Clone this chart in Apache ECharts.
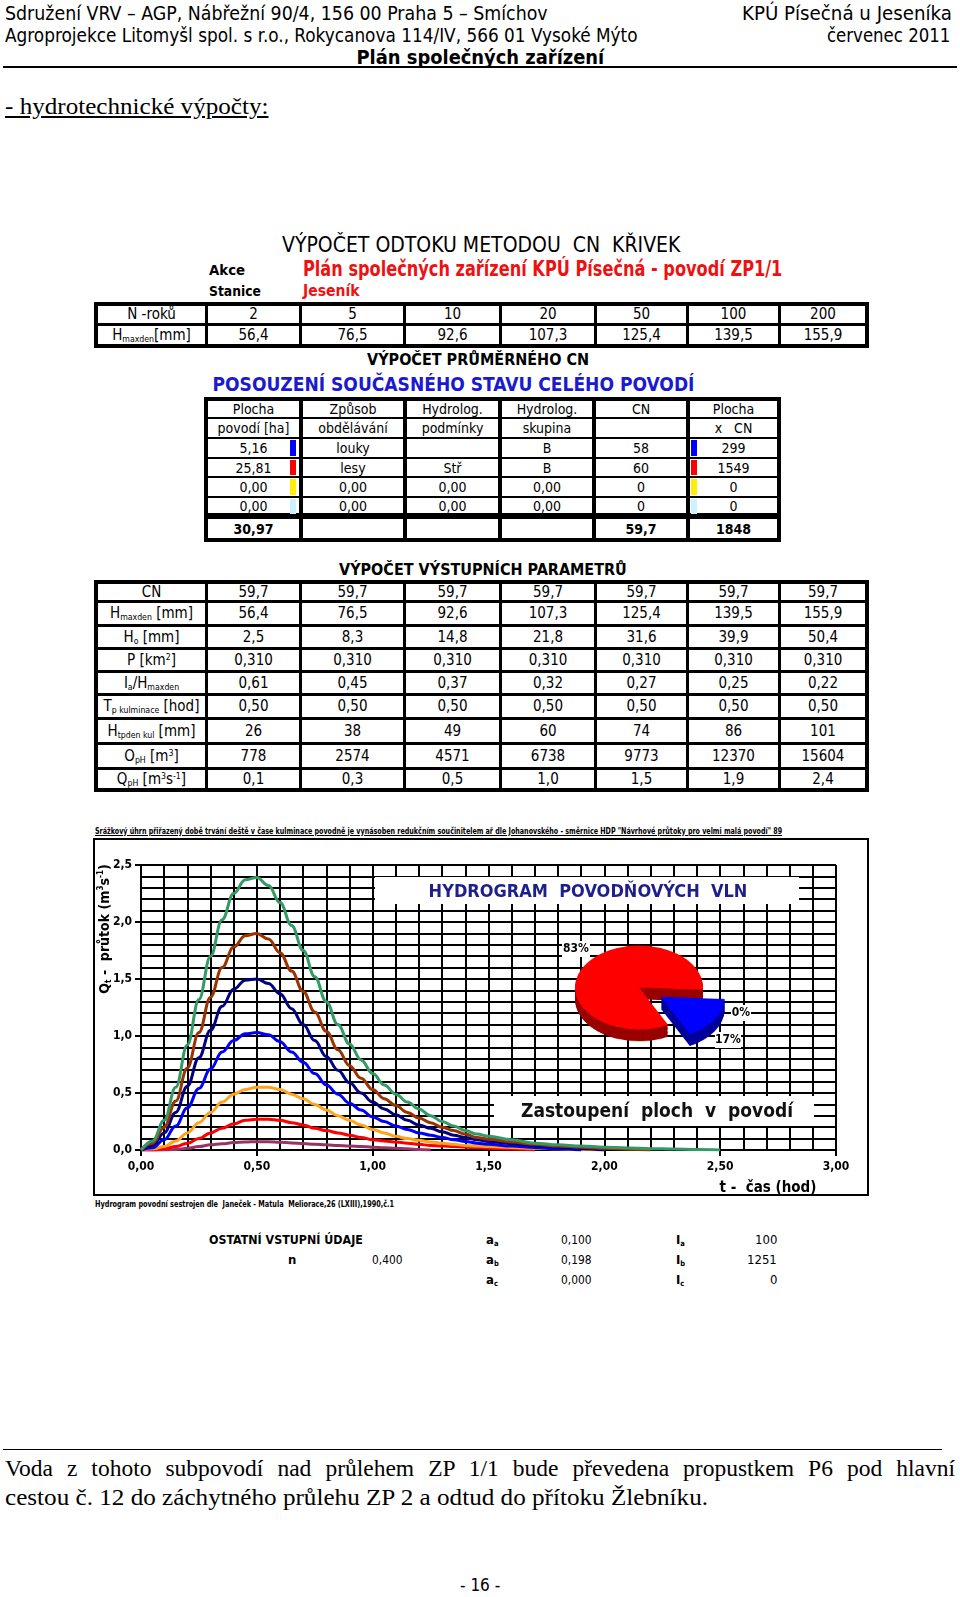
<!DOCTYPE html>
<html><head><meta charset="utf-8">
<script src="https://cdn.jsdelivr.net/npm/echarts/dist/echarts.min.js"></script>
<style>
html,body{margin:0;padding:0;background:#fff;}
#page{position:relative;width:960px;height:1597px;overflow:hidden;background:#fff;font-family:"Liberation Sans Narrow","Arial Narrow","DejaVu Sans Condensed","Liberation Sans",sans-serif;color:#000;}
.t{position:absolute;white-space:nowrap;left:0;top:0;}
.cell{position:absolute;background:#fff;display:flex;align-items:center;justify-content:center;white-space:nowrap;font-size:15px;line-height:1;}
sub{font-size:58%;vertical-align:-0.25em;line-height:0;}
sup{font-size:58%;vertical-align:0.55em;line-height:0;}
#chart{position:absolute;left:93px;top:838px;width:776px;height:358px;}
#pie{position:absolute;left:539px;top:934.5px;width:200px;height:200px;transform:scaleY(0.656);transform-origin:0 0;z-index:5;}
#box{position:absolute;left:93px;top:838px;width:776px;height:358px;border:2px solid #000;box-sizing:border-box;pointer-events:none;z-index:6;}
</style></head>
<body>
<div id="page">
  <div id="chart"></div>
  <div id="pie"></div>
  <div id="box"></div>
</div>
<script>
// ---------------- DATA ----------------
const N_YEARS = [2, 5, 10, 20, 50, 100, 200];
const H_MAXDEN = [56.4, 76.5, 92.6, 107.3, 125.4, 139.5, 155.9];

const AREA_HA = [5.16, 25.81, 0.00, 0.00];
const LAND_USE = ['louky', 'lesy', '0,00', '0,00'];
const HYD_COND = ['', 'Stř', '0,00', '0,00'];
const HYD_GROUP = ['B', 'B', '0,00', '0,00'];
const CN_VALS = [58, 60, 0, 0];
const AREA_X_CN = [299, 1549, 0, 0];
const AREA_TOTAL = 30.97;
const CN_AVG = 59.7;
const AREA_X_CN_TOTAL = 1848;
const SLICE_TOP = ['#0000ff', '#ff0000', '#ffee00', '#ccf2ff'];
const SLICE_SIDE = ['#00009a', '#990000', '#999900', '#88aaaa'];

const CN_ROW = [59.7, 59.7, 59.7, 59.7, 59.7, 59.7, 59.7];
const H_O = [2.5, 8.3, 14.8, 21.8, 31.6, 39.9, 50.4];
const P_KM2 = [0.310, 0.310, 0.310, 0.310, 0.310, 0.310, 0.310];
const IA_H = [0.61, 0.45, 0.37, 0.32, 0.27, 0.25, 0.22];
const TP_KUL = [0.50, 0.50, 0.50, 0.50, 0.50, 0.50, 0.50];
const H_TPDEN = [26, 38, 49, 60, 74, 86, 101];
const O_PH = [778, 2574, 4571, 6738, 9773, 12370, 15604];
const Q_PH = [0.1, 0.3, 0.5, 1.0, 1.5, 1.9, 2.4];

// hydrograph time (h)
const TIME = [0,0.05,0.10,0.15,0.20,0.25,0.30,0.35,0.40,0.45,0.50,0.55,0.60,0.65,0.70,0.75,0.80,0.85,0.90,0.95,1.00,1.05,1.10,1.15,1.20,1.25,1.30,1.35,1.40,1.45,1.50,1.60,1.70,1.80,1.90,2.00,2.10,2.20,2.30,2.40,2.50];
const Q_N2   = [0,0,0,0.005,0.015,0.03,0.045,0.055,0.065,0.07,0.073,0.072,0.068,0.062,0.056,0.05,0.045,0.04,0.035,0.03,0.025,0.02,0.015,0.01,0.005,0];
const Q_N5   = [0,0,0.01,0.03,0.06,0.10,0.15,0.19,0.23,0.26,0.27,0.27,0.26,0.24,0.22,0.19,0.17,0.15,0.13,0.11,0.09,0.08,0.07,0.06,0.05,0.04,0.035,0.03,0.025,0.02,0.015,0.008,0];
const Q_N10  = [0,0.01,0.03,0.08,0.15,0.24,0.33,0.42,0.49,0.53,0.55,0.55,0.53,0.49,0.45,0.40,0.35,0.30,0.26,0.22,0.18,0.15,0.12,0.10,0.085,0.07,0.06,0.05,0.04,0.035,0.03,0.022,0.015,0.01,0.005,0];
const Q_N20  = [0,0.02,0.09,0.21,0.37,0.54,0.71,0.86,0.96,1.02,1.03,1.01,0.95,0.86,0.77,0.67,0.57,0.49,0.41,0.35,0.29,0.25,0.21,0.18,0.15,0.13,0.11,0.09,0.075,0.06,0.05,0.035,0.022,0.01,0];
const Q_N50  = [0,0.04,0.15,0.33,0.56,0.81,1.05,1.26,1.41,1.49,1.50,1.46,1.37,1.24,1.10,0.96,0.82,0.70,0.59,0.50,0.42,0.36,0.31,0.26,0.22,0.19,0.16,0.13,0.11,0.09,0.075,0.055,0.04,0.025,0.012,0];
const Q_N100 = [0,0.06,0.20,0.43,0.72,1.03,1.34,1.60,1.78,1.88,1.90,1.85,1.73,1.57,1.39,1.21,1.04,0.88,0.74,0.63,0.53,0.45,0.39,0.33,0.28,0.24,0.20,0.17,0.14,0.11,0.095,0.07,0.05,0.035,0.025,0.015,0.007,0];
const Q_N200 = [0,0.08,0.26,0.55,0.92,1.32,1.70,2.02,2.25,2.37,2.39,2.32,2.17,1.97,1.75,1.52,1.30,1.10,0.93,0.79,0.67,0.57,0.49,0.42,0.36,0.30,0.25,0.21,0.17,0.14,0.12,0.09,0.06,0.045,0.035,0.025,0.018,0.012,0.008,0.004,0];
const HYDRO_SERIES = [Q_N2, Q_N5, Q_N10, Q_N20, Q_N50, Q_N100, Q_N200];
const HYDRO_COLORS = ['#993366', '#ff0000', '#ffa31a', '#0000ff', '#000080', '#993300', '#339966'];

const X_TICKS = ['0,00','0,50','1,00','1,50','2,00','2,50','3,00'];
const Y_TICKS = ['0,0','0,5','1,0','1,5','2,0','2,5'];

// ---------------- HELPERS ----------------
const page = document.getElementById('page');
const NARROW = '"Liberation Sans Narrow","Arial Narrow","DejaVu Sans Condensed","Liberation Sans",sans-serif';
const SERIF = '"Liberation Serif","Times New Roman","DejaVu Serif",serif';
const c1 = v => v.toFixed(1).replace('.', ',');
const c2 = v => v.toFixed(2).replace('.', ',');
const c3 = v => v.toFixed(3).replace('.', ',');

function txt(html, x, yc, size, o) {
  o = o || {};
  const d = document.createElement('div');
  d.className = 't';
  d.innerHTML = html;
  d.style.fontSize = size + 'px';
  d.style.lineHeight = Math.round(size * 1.15) + 'px';
  d.style.fontFamily = o.family || NARROW;
  if (o.bold) d.style.fontWeight = 'bold';
  if (o.color) d.style.color = o.color;
  if (o.underline) d.style.textDecoration = 'underline';
  page.appendChild(d);
  const w = d.offsetWidth, h = d.offsetHeight;
  const align = o.align || 'left';
  let left = align === 'left' ? x : align === 'right' ? x - w : x - w / 2;
  d.style.left = left + 'px';
  d.style.top = (yc - h / 2) + 'px';
  if (o.w) {
    d.style.transformOrigin = (align === 'left' ? '0' : align === 'right' ? '100%' : '50%') + ' 50%';
    d.style.transform = 'scaleX(' + (o.w / w) + ')';
  }
  return d;
}

function rect(x, y, w, h, color) {
  const d = document.createElement('div');
  d.style.cssText = `position:absolute;left:${x}px;top:${y}px;width:${w}px;height:${h}px;background:${color};`;
  page.appendChild(d);
  return d;
}

function table(xs, ys, vx, vy, cells, opts) {
  opts = opts || {};
  rect(xs[0], ys[0], xs[xs.length - 1] - xs[0], ys[ys.length - 1] - ys[0], '#000');
  const nc = xs.length - 1, nr = ys.length - 1;
  for (let r = 0; r < nr; r++) {
    for (let c = 0; c < nc; c++) {
      const l = xs[c] + (c === 0 ? vx[0] : Math.ceil(vx[c] / 2));
      const rr = xs[c + 1] - (c + 1 === nc ? vx[nc] : Math.floor(vx[c + 1] / 2));
      const t = ys[r] + (r === 0 ? vy[0] : Math.ceil(vy[r] / 2));
      const b = ys[r + 1] - (r + 1 === nr ? vy[nr] : Math.floor(vy[r + 1] / 2));
      const d = document.createElement('div');
      d.className = 'cell';
      d.style.left = l + 'px'; d.style.top = t + 'px';
      d.style.width = (rr - l) + 'px'; d.style.height = (b - t) + 'px';
      d.style.fontSize = (opts.fs || 15) + 'px';
      d.innerHTML = '<span>' + (cells[r][c] === undefined ? '' : cells[r][c]) + '</span>';
      if (opts.bold && opts.bold(r, c)) d.style.fontWeight = 'bold';
      page.appendChild(d);
    }
  }
}

// ---------------- HEADER ----------------
txt('Sdružení VRV – AGP, Nábřežní 90/4, 156 00 Praha 5 – Smíchov', 5, 13, 19, {w: 543});
txt('Agroprojekce Litomyšl spol. s r.o., Rokycanova 114/IV, 566 01 Vysoké Mýto', 5, 35, 19, {w: 633});
txt('KPÚ Písečná u Jeseníka', 952, 13, 19, {align: 'right', w: 210});
txt('červenec 2011', 950, 35, 19, {align: 'right', w: 123});
txt('Plán společných zařízení', 480, 57, 19, {align: 'center', bold: true, w: 248});
rect(3, 66, 954, 2, '#000');
txt('- hydrotechnické výpočty:', 5, 107, 23, {family: SERIF, underline: true, w: 263});

// ---------------- TABLE 1 ----------------
txt('VÝPOČET ODTOKU METODOU&nbsp;&nbsp;CN&nbsp;&nbsp;KŘIVEK', 481, 245, 21, {align: 'center', w: 398});
txt('Akce', 209, 270, 14, {bold: true, w: 36});
txt('Stanice', 209, 291, 14, {bold: true, w: 52});
txt('Plán společných zařízení KPÚ Písečná - povodí ZP1/1', 303, 269, 21, {bold: true, color: '#ee1111', w: 479});
txt('Jeseník', 303, 291, 15, {bold: true, color: '#ee1111', w: 57});

const XS = [94, 206, 300, 404, 500, 595, 687, 779, 869];
const VX = [4, 3, 3, 3, 3, 3, 3, 3, 4];
table(XS, [302, 324, 348], VX, [4, 3, 4], [
  ['N -roků'].concat(N_YEARS.map(String)),
  ['H<sub>maxden</sub>[mm]'].concat(H_MAXDEN.map(c1))
]);

// ---------------- TABLE 2 ----------------
txt('VÝPOČET PRŮMĚRNÉHO CN', 478, 360, 15, {align: 'center', bold: true, w: 222});
txt('POSOUZENÍ SOUČASNÉHO STAVU CELÉHO POVODÍ', 453, 384, 20, {align: 'center', bold: true, color: '#1a1ad0', w: 482});

const t2 = [
  ['Plocha', 'Způsob', 'Hydrolog.', 'Hydrolog.', 'CN', 'Plocha'],
  ['povodí [ha]', 'obdělávání', 'podmínky', 'skupina', '', 'x&nbsp;&nbsp;&nbsp;CN']
];
for (let i = 0; i < AREA_HA.length; i++) {
  t2.push([c2(AREA_HA[i]), LAND_USE[i], HYD_COND[i], HYD_GROUP[i], String(CN_VALS[i]), String(AREA_X_CN[i])]);
}
t2.push([c2(AREA_TOTAL), '', '', '', c1(CN_AVG), String(AREA_X_CN_TOTAL)]);
const YS2 = [397, 418, 438, 458, 477, 497, 516, 542];
table([204, 301, 405, 500, 594, 688, 781], YS2, [4, 4, 4, 4, 4, 4, 4], [4, 2, 2, 2, 2, 2, 6, 4], t2,
  {fs: 14, bold: (r, c) => r === 6});
for (let i = 0; i < 4; i++) {
  const t = YS2[i + 2] + 1, b = YS2[i + 3] - 1;
  rect(290, t + 1, 6, b - t - 2, SLICE_TOP[i]);
  rect(691, t + 1, 6, b - t - 2, SLICE_TOP[i]);
}

// ---------------- TABLE 3 ----------------
txt('VÝPOČET VÝSTUPNÍCH PARAMETRŮ', 483, 570, 15, {align: 'center', bold: true, w: 288});
const t3 = [
  ['CN'].concat(CN_ROW.map(c1)),
  ['H<sub>maxden</sub> [mm]'].concat(H_MAXDEN.map(c1)),
  ['H<sub>o</sub> [mm]'].concat(H_O.map(c1)),
  ['P [km<sup>2</sup>]'].concat(P_KM2.map(c3)),
  ['I<sub>a</sub>/H<sub>maxden</sub>'].concat(IA_H.map(c2)),
  ['T<sub>p kulminace</sub> [hod]'].concat(TP_KUL.map(c2)),
  ['H<sub>tpden kul</sub> [mm]'].concat(H_TPDEN.map(String)),
  ['O<sub>pH</sub> [m<sup>3</sup>]'].concat(O_PH.map(String)),
  ['Q<sub>pH</sub> [m<sup>3</sup>s<sup>-1</sup>]'].concat(Q_PH.map(c1))
];
table(XS, [580, 601, 625, 648, 671, 694, 718, 743, 768, 792], VX, [4, 3, 3, 3, 3, 3, 3, 3, 3, 4], t3);

// ---------------- CHART CAPTIONS ----------------
txt('Srážkový úhrn přiřazený době trvání deště v čase kulminace povodně je vynásoben redukčním součinitelem ař dle Johanovského - směrnice HDP "Návrhové průtoky pro velmi malá povodí" 89', 95, 831, 8, {bold: true, underline: true, w: 687});
txt('Hydrogram povodní sestrojen dle&nbsp;&nbsp;Janeček - Matula&nbsp;&nbsp;Meliorace,26 (LXIII),1990,č.1', 95, 1204, 8, {bold: true, w: 299});

// ---------------- OTHER INPUTS ----------------
txt('OSTATNÍ VSTUPNÍ ÚDAJE', 209, 1239, 13, {bold: true, w: 154});
txt('n', 292, 1259, 13, {bold: true, align: 'center'});
txt('0,400', 402, 1259, 13, {align: 'right', w: 30});
txt('a<sub>a</sub>', 486, 1239, 13, {bold: true});
txt('a<sub>b</sub>', 486, 1259, 13, {bold: true});
txt('a<sub>c</sub>', 486, 1279, 13, {bold: true});
txt('0,100', 591, 1239, 13, {align: 'right', w: 30});
txt('0,198', 591, 1259, 13, {align: 'right', w: 30});
txt('0,000', 591, 1279, 13, {align: 'right', w: 30});
txt('I<sub>a</sub>', 676, 1239, 13, {bold: true});
txt('I<sub>b</sub>', 676, 1259, 13, {bold: true});
txt('I<sub>c</sub>', 676, 1279, 13, {bold: true});
txt('100', 777, 1239, 13, {align: 'right'});
txt('1251', 777, 1259, 13, {align: 'right'});
txt('0', 777, 1279, 13, {align: 'right'});

// ---------------- FOOTER ----------------
rect(3, 1449, 939, 1, '#000');
(function () {
  const d = document.createElement('div');
  d.style.cssText = 'position:absolute;left:5px;top:1454px;width:950px;font-size:23.5px;line-height:28px;text-align:justify;text-align-last:justify;font-family:' + SERIF.replace(/"/g, "'") + ';';
  d.textContent = 'Voda z tohoto subpovodí nad průlehem ZP 1/1 bude převedena propustkem P6 pod hlavní';
  page.appendChild(d);
})();
txt('cestou č. 12 do záchytného průlehu ZP 2 a odtud do přítoku Žlebníku.', 5, 1497, 23.5, {family: SERIF, w: 703});
txt('- 16 -', 480, 1585, 17, {align: 'center'});

// ---------------- HYDROGRAPH ----------------
const chart = echarts.init(document.getElementById('chart'), null, {renderer: 'canvas'});
const total = AREA_HA.reduce((a, b) => a + b, 0);
const pct = v => Math.round(v / total * 100) + '%';
const lbl = {fontFamily: NARROW, fontWeight: 'bold', fontSize: 12, color: '#000'};

function labelBox(text, cx, cy, w) {
  return [
    {type: 'rect', z: 20, shape: {x: cx - w / 2, y: cy - 8, width: w, height: 16}, style: {fill: '#fff'}},
    {type: 'text', z: 21, x: cx, y: cy, style: Object.assign({text: text, align: 'center', verticalAlign: 'middle'}, lbl)}
  ];
}

chart.setOption({
  animation: false,
  grid: {left: 48, right: 33, top: 27, bottom: 46, containLabel: false},
  xAxis: {
    type: 'value', min: 0, max: 3, interval: 0.5,
    axisLine: {show: true, onZero: false, lineStyle: {color: '#000', width: 2}},
    axisTick: {show: true, length: 6, lineStyle: {color: '#000', width: 2}},
    axisLabel: {formatter: v => X_TICKS[Math.round(v / 0.5)], color: '#000', fontWeight: 'bold', fontSize: 12, fontFamily: NARROW, margin: 11},
    splitLine: {show: true, lineStyle: {color: '#000', width: 2}},
    minorTick: {show: false, splitNumber: 5},
    minorSplitLine: {show: true, lineStyle: {color: '#000', width: 2}}
  },
  yAxis: {
    type: 'value', min: 0, max: 2.5, interval: 0.5,
    axisLine: {show: true, lineStyle: {color: '#000', width: 2}},
    axisTick: {show: true, length: 6, lineStyle: {color: '#000', width: 2}},
    axisLabel: {formatter: v => Y_TICKS[Math.round(v / 0.5)], color: '#000', fontWeight: 'bold', fontSize: 12, fontFamily: NARROW, margin: 9},
    splitLine: {show: true, lineStyle: {color: '#000', width: 2}},
    minorTick: {show: false, splitNumber: 5},
    minorSplitLine: {show: true, lineStyle: {color: '#000', width: 2}}
  },
  series: HYDRO_SERIES.map((vals, i) => ({
    type: 'line', name: 'N = ' + N_YEARS[i],
    data: vals.map((v, k) => [TIME[k], v]),
    showSymbol: false, smooth: 0.4, smoothMonotone: 'x',
    lineStyle: {color: HYDRO_COLORS[i], width: 3}, itemStyle: {color: HYDRO_COLORS[i]},
    z: 3 + i
  })),
  graphic: [
    {type: 'rect', z: 20, shape: {x: 282, y: 39, width: 424, height: 27}, style: {fill: '#fff'}},
    {type: 'text', z: 21, x: 495, y: 54, style: {text: 'HYDROGRAM  POVODŇOVÝCH  VLN', align: 'center', verticalAlign: 'middle', fontFamily: NARROW, fontWeight: 'bold', fontSize: 18, fill: '#1f1f8c'}},
    {type: 'rect', z: 20, shape: {x: 401, y: 258, width: 320, height: 30}, style: {fill: '#fff'}},
    {type: 'text', z: 21, x: 564, y: 274, style: {text: 'Zastoupení  ploch  v  povodí', align: 'center', verticalAlign: 'middle', fontFamily: NARROW, fontWeight: 'bold', fontSize: 19, fill: '#111'}},
    {type: 'text', z: 21, x: 12, y: 91, rotation: Math.PI / 2,
      style: {text: '{a|Q}{s|t}{a| -  průtok (m}{p|3}{a|s}{p|-1}{a|)}', align: 'center', verticalAlign: 'middle',
        rich: {a: {fontFamily: NARROW, fontWeight: 'bold', fontSize: 14, fill: '#000'},
               s: {fontFamily: NARROW, fontWeight: 'bold', fontSize: 8, fill: '#000', padding: [8, 0, 0, 0]},
               p: {fontFamily: NARROW, fontWeight: 'bold', fontSize: 8, fill: '#000', padding: [0, 0, 8, 0]}}}},
    {type: 'text', z: 21, x: 675, y: 350, style: {text: 't -  čas (hod)', align: 'center', verticalAlign: 'middle', fontFamily: NARROW, fontWeight: 'bold', fontSize: 15, fill: '#000'}}
  ].concat(labelBox(pct(AREA_HA[1]), 483, 111, 28))
   .concat(labelBox(pct(AREA_HA[2]), 648, 175, 20))
   .concat(labelBox(pct(AREA_HA[0]), 635, 202, 26))
});

// ---------------- PIE (3D look via layered pies, squashed) ----------------
const pie = echarts.init(document.getElementById('pie'), null, {renderer: 'canvas'});
const SLICE_NAMES = ['louky', 'lesy', 'x1', 'x2'];
const layers = [];
for (let k = 18; k >= 0; k -= 2) {
  const top = k === 0;
  layers.push({
    type: 'pie', radius: 64, center: [100, 80 + k], startAngle: -3, clockwise: true,
    selectedMode: 'single', selectedOffset: 26, silent: true, animation: false,
    label: {show: false}, labelLine: {show: false}, avoidLabelOverlap: false,
    emphasis: {disabled: true},
    itemStyle: {borderWidth: 0},
    data: AREA_HA.map((v, i) => ({name: SLICE_NAMES[i], value: v, selected: i === 0,
      itemStyle: {color: top ? SLICE_TOP[i] : SLICE_SIDE[i]}}))
  });
}
pie.setOption({animation: false, series: layers});
</script>
</body></html>
